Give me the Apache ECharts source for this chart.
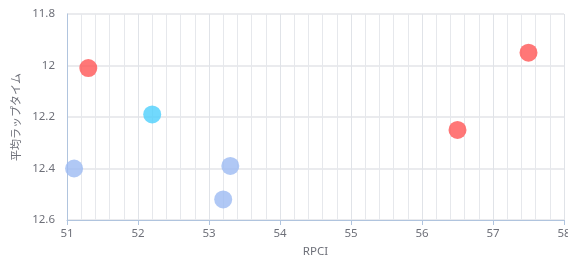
<!DOCTYPE html>
<html><head><meta charset="utf-8">
<script src="https://cdn.jsdelivr.net/npm/echarts@6/dist/echarts.min.js"></script>
<style>html,body{margin:0;padding:0;background:#fff}#c{width:568px;height:263px}</style>
</head><body><div id="c"></div>
<script>
const xName = 'RPCI';
const yName = '平均ラップタイム';
const redPoints = [[51.3, 12.01], [56.5, 12.25], [57.5, 11.95]];
const cyanPoints = [[52.2, 12.19]];
const bluePoints = [[51.1, 12.40], [53.3, 12.39], [53.2, 12.52]];
const xMin = 51, xMax = 58, yMin = 11.8, yMax = 12.6;

const chart = echarts.init(document.getElementById('c'));
const lbl = {color: '#6e7079', fontSize: 11.5, fontFamily: 'Noto Sans, sans-serif'};
function s(data, color) {
  return {type: 'scatter', data: data, symbolSize: 18,
    itemStyle: {color: color, opacity: 0.8}};
}
chart.setOption({
  animation: false,
  grid: {left: 67, right: 4, top: 14, bottom: 43, outerBoundsMode: 'none', containLabel: false},
  xAxis: {
    type: 'value', min: xMin, max: xMax, interval: 1,
    name: xName, nameLocation: 'middle', nameGap: 26,
    nameTextStyle: {color: '#6e7079', fontSize: 11.5, fontFamily: 'Noto Sans, sans-serif'},
    axisLine: {show: true, lineStyle: {color: '#b0c4de'}},
    axisTick: {show: true, lineStyle: {color: '#b0c4de'}},
    axisLabel: lbl,
    splitLine: {show: true, lineStyle: {color: '#e0e3e8'}},
    minorTick: {show: false, splitNumber: 5},
    minorSplitLine: {show: true, lineStyle: {color: '#e6e8ec'}}
  },
  yAxis: {
    type: 'value', min: yMin, max: yMax, interval: 0.2, inverse: true,
    name: yName, nameLocation: 'middle', nameGap: 40,
    nameTextStyle: {color: '#6e7079', fontSize: 11, fontFamily: 'Noto Sans CJK JP, sans-serif'},
    axisLine: {show: true, lineStyle: {color: '#b0c4de'}},
    axisTick: {show: false},
    axisLabel: Object.assign({margin: 12}, lbl),
    splitLine: {show: true, lineStyle: {color: '#e3e5e8', width: 1.5}}
  },
  series: [s(redPoints, '#ff5555'), s(cyanPoints, '#4dd0fc'), s(bluePoints, '#9cbaf3')]
});
</script></body></html>
